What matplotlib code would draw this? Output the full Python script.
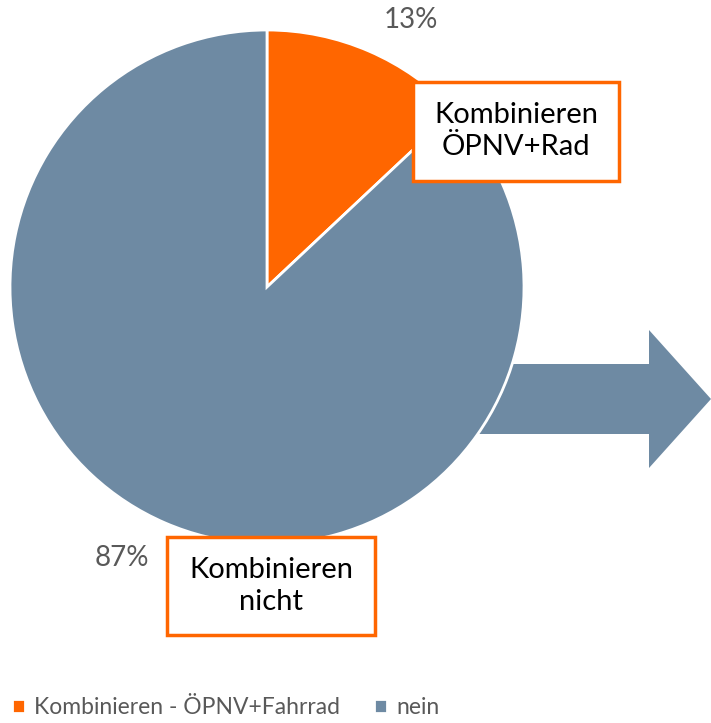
import matplotlib.pyplot as plt
from matplotlib.patches import Polygon

labels = ['Kombinieren - ÖPNV+Fahrrad', 'nein']
shares = [13, 87]
colors = ['#FF6600', '#6E8AA3']
box_texts = ['Kombinieren\nÖPNV+Rad', 'Kombinieren\nnicht']

W, H = 711, 723
fig = plt.figure(figsize=(W / 100, H / 100), dpi=100)
ax = fig.add_axes([0, 0, 1, 1])
ax.set_xlim(0, W)
ax.set_ylim(0, H)
ax.set_aspect('equal')
ax.axis('off')

# arrow pointing right out of the pie
arrow = Polygon([(460, H - 364), (649, H - 364), (649, H - 330), (711, H - 399),
                 (649, H - 468), (649, H - 434), (460, H - 434)],
                closed=True, facecolor=colors[1], edgecolor='none', zorder=1)
ax.add_patch(arrow)

wedges, _ = ax.pie(shares, colors=colors, startangle=90, counterclock=False,
                   center=(267, H - 287), radius=257, frame=True,
                   wedgeprops=dict(edgecolor='white', linewidth=2, zorder=2))
ax.set_xlim(0, W)
ax.set_ylim(0, H)
ax.axis('off')

pct_pos = [(411, 20), (122, 558)]
for (x, y), s in zip(pct_pos, shares):
    ax.text(x, H - y, f'{s}%', ha='center', va='center', fontsize=20,
            color='#595959', family='Lato', zorder=5)

box_pos = [(516, 131), (271, 586)]
box_size = [(206, 99), (208, 98)]
for (x, y), (bw, bh), t in zip(box_pos, box_size, box_texts):
    ax.add_patch(plt.Rectangle((x - bw / 2, H - y - bh / 2), bw, bh,
                               facecolor='white', edgecolor='#FF6600',
                               linewidth=2.5, zorder=4))
    ax.text(x, H - y, t, ha='center', va='center', fontsize=21,
            color='black', family='Lato', linespacing=1.3, zorder=5)

leg = fig.legend(wedges, labels, loc='center left',
                 bbox_to_anchor=(-0.012, 1 - 708 / H),
                 ncol=2, frameon=False, handlelength=0.55,
                 handleheight=0.55, handletextpad=0.4, columnspacing=1.5,
                 prop={'family': 'Lato', 'size': 16.5})
for t in leg.get_texts():
    t.set_color('#595959')

fig.savefig('out.png', dpi=100)
